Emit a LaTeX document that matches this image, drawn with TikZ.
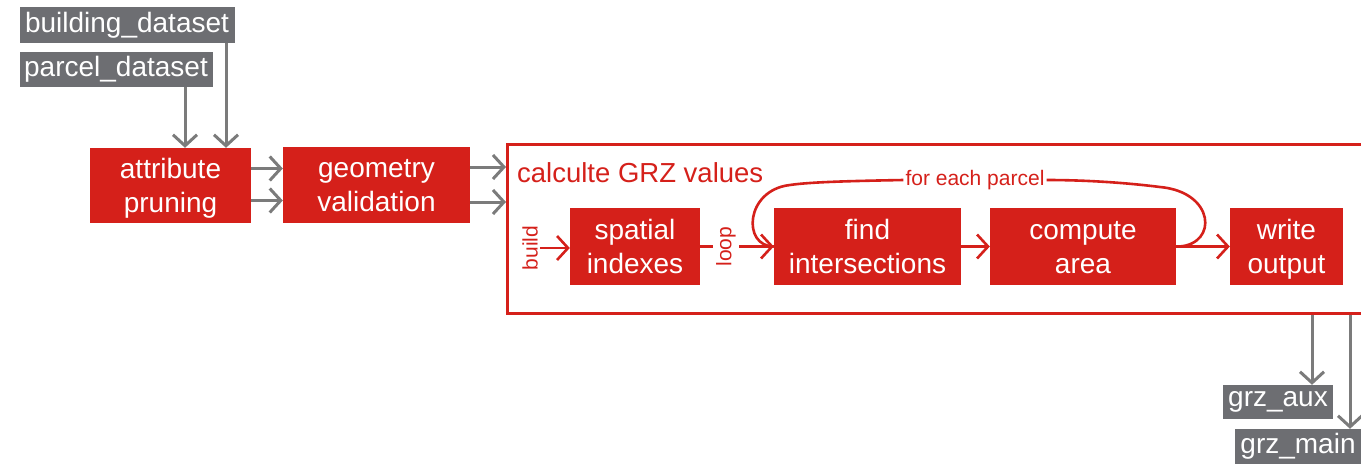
\documentclass[tikz,border=0pt]{standalone}
\usepackage{fontspec}
\setmainfont{Liberation Sans}
\usetikzlibrary{arrows.meta,calc}
\definecolor{myred}{RGB}{213,32,26}
\definecolor{boxgray}{RGB}{109,110,114}
\definecolor{arrgray}{RGB}{123,123,123}
\newcommand{\twolines}[2]{\rule{0pt}{27.6pt}#1\\#2\rule[-8pt]{0pt}{8pt}}
\begin{document}
\begin{tikzpicture}[x=1pt,y=-1pt,
  redbox/.style={fill=myred,text=white,inner sep=0pt,align=center,font=\fontsize{28}{34}\selectfont},
  graybox/.style={fill=boxgray,text=white,inner sep=0pt,font=\fontsize{28}{32}\selectfont},
  garrow/.style={draw=arrgray,line width=3pt,-{Straight Barb[length=11pt,width=24pt]}},
  rline/.style={draw=myred,line width=2.6pt},
  rarrow/.style={rline,-{Straight Barb[length=11pt,width=24pt]}},
  rlabel/.style={text=myred,inner sep=2pt,font=\fontsize{21}{24}\selectfont},
  bigbox/.style={draw=myred,line width=3pt,fill=white,inner sep=0pt}]
\useasboundingbox (0,0) rectangle (1361,464);
% inputs
\node[graybox,minimum width=215pt,minimum height=36pt] (bd) at (127,25) {building\_dataset};
\node[graybox,minimum width=193pt,minimum height=35pt] (pd) at (116,69.5) {parcel\_dataset};
% preprocessing
\node[redbox,minimum width=161pt,minimum height=75pt] (ap) at (170.5,185.5) {\twolines{attribute}{pruning}};
\node[redbox,minimum width=187pt,minimum height=76pt] (gv) at (376.5,185) {\twolines{geometry}{validation}};
% container
\node[bigbox,anchor=north west,minimum width=900pt,minimum height=169pt] (grz) at (506,142.5) {};
\node[text=myred,anchor=west,inner sep=0pt,font=\fontsize{27.5}{30}\selectfont] (title) at (517,173) {calculte GRZ values};
% steps
\node[redbox,minimum width=130pt,minimum height=77pt] (si) at (635,246.5) {\twolines{spatial}{indexes}};
\node[redbox,minimum width=187pt,minimum height=77pt] (fi) at (867.5,246.5) {\twolines{find}{intersections}};
\node[redbox,minimum width=186pt,minimum height=77pt] (ca) at (1083,246.5) {\twolines{compute}{area}};
\node[redbox,minimum width=113pt,minimum height=77pt] (wo) at (1286.5,246.5) {\twolines{write}{output}};
% outputs
\node[graybox,minimum width=110pt,minimum height=34pt] (aux) at (1278,402) {grz\_aux};
\node[graybox,minimum width=126pt,minimum height=35pt] (main) at (1298,446.5) {grz\_main};
% labels
\node[rlabel,rotate=90] (bl) at (530,248) {build};
\node[rlabel] (fep) at (975,180) {for each parcel};
% gray connectors
\draw[garrow] ([xshift=69pt]pd.south) -- ([xshift=69pt]pd.south |- ap.north);
\draw[garrow] ([xshift=99pt]bd.south) -- ([xshift=99pt]bd.south |- ap.north);
\draw[garrow] ([yshift=17pt]ap.east) -- ([yshift=17pt]ap.east -| gv.west);
\draw[garrow] ([yshift=-15pt]ap.east) -- ([yshift=-15pt]ap.east -| gv.west);
\draw[garrow] ([yshift=18pt]gv.east) -- ([yshift=18pt]gv.east -| grz.west);
\draw[garrow] ([yshift=-17pt]gv.east) -- ([yshift=-17pt]gv.east -| grz.west);
\draw[garrow] ([xshift=34pt]aux.north |- grz.south) -- ([xshift=34pt]aux.north);
\draw[garrow] ([xshift=52pt]main.north |- grz.south) -- ([xshift=52pt]main.north);
% red connectors
\draw[rarrow] (bl.south) -- (bl.south -| si.west);
\draw[rarrow] (si) -- node[rlabel,rotate=90,fill=white,pos=0.35,inner sep=3pt] {loop} (fi);
\draw[rarrow] (fi) -- (ca);
\draw[rarrow] (ca) -- (wo);
\coordinate (lp) at ([xshift=3pt]ca.east);
\draw[rline] (lp) .. controls (1218,244) and (1215,192) .. (1160,187) .. controls (1120,182) and (1080,180) .. (fep.east);
\draw[rline] (fep.west) .. controls (850,181) and (810,182) .. (790,185) .. controls (745,190) and (742,246.5) .. (fi.west);
\end{tikzpicture}
\end{document}
